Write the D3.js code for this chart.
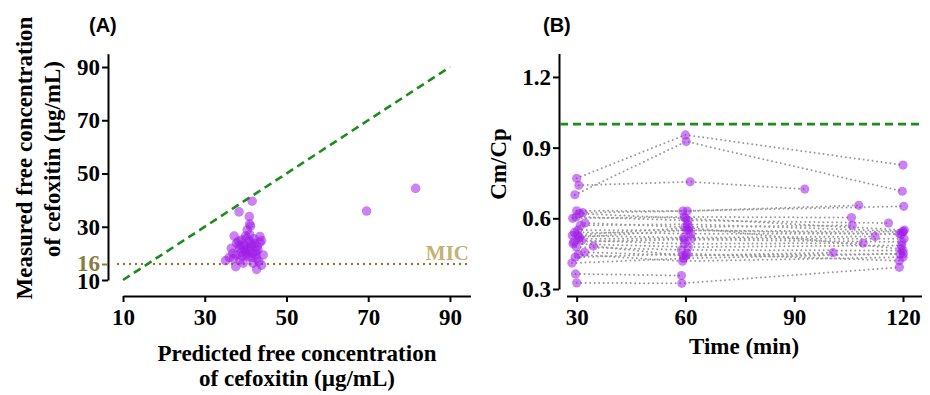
<!DOCTYPE html>
<html>
<head>
<meta charset="utf-8">
<script src="https://cdn.jsdelivr.net/npm/d3@7"></script>
<style>
  html, body { margin: 0; padding: 0; background: #fff; }
  svg { display: block; }
  .axis path, .axis line { stroke: #000; stroke-width: 2; }
  .axis text { font-family: "Liberation Serif", "Times New Roman", serif; font-weight: bold; font-size: 23px; fill: #000; }
  .title { font-family: "Liberation Serif", "Times New Roman", serif; font-weight: bold; font-size: 23px; fill: #000; }
  .panel { font-family: "Liberation Sans", Arial, sans-serif; font-weight: bold; font-size: 20px; fill: #000; }
</style>
</head>
<body>
<svg id="chart" width="930" height="395"></svg>
<script>
/* ── Data: panel A (predicted vs measured free cefoxitin, µg/mL) ─── */
const predA = [38.4, 41.6, 40.9, 41.0, 41.2, 37.2, 40.4, 43.5, 43.9, 35.1,
               37.6, 42.7, 43.9, 44.3, 38.6, 39.4, 36.9, 36.5, 37.8, 39.0,
               40.2, 41.4, 41.8, 40.6, 39.8, 42.2, 43.0, 38.6, 41.0, 39.8,
               41.8, 42.7, 37.8, 40.0, 42.5, 39.2, 41.0, 38.2, 43.2, 40.5,
               42.0, 36.0, 39.5, 40.8, 41.5, 42.8, 39.0, 40.2, 41.3, 38.5,
               43.5, 40.0, 42.5, 37.0, 69.6, 81.6];
const measA = [35.6, 39.6, 33.8, 31.0, 30.2, 26.5, 28.8, 26.3, 24.8, 17.3,
               15.0, 14.0, 15.6, 19.4, 17.5, 16.3, 20.0, 21.9, 23.8, 25.0,
               25.6, 22.5, 20.0, 18.8, 21.3, 23.8, 21.3, 21.9, 24.4, 23.1,
               16.3, 18.1, 19.4, 20.5, 20.8, 19.0, 27.0, 24.5, 17.0, 22.0,
               25.5, 18.5, 22.5, 21.0, 23.5, 22.5, 20.5, 19.5, 18.5, 23.0,
               24.0, 26.5, 19.5, 18.0, 35.9, 44.4];
const xTicksA = [10, 30, 50, 70, 90];
const yTicksA = [10, 16, 30, 50, 70, 90];
const MIC = 16;

/* ── Data: panel B (Cm/Cp per subject over time) ─────────────────── */
// each subject: sampling times (min) and matching Cm/Cp ratios
const subjTimes = [
  [30, 60, 120],       [29.5, 60.2, 119.8], [30.6, 61.3, 92.9],  [30, 59.3, 120.2],   [31.7, 60.5, 107.8],
  [28.9, 59.6, 105.8], [29.8, 60.7, 116],   [32.3, 59.9, 106],   [30.3, 60.9, 120],   [29.4, 61.5, 119],
  [28.8, 59.5, 112.3], [30.4, 61.6, 120.3], [31.4, 59.8, 109],   [29.0, 60.8, 119.6], [29.9, 58.9, 120],
  [34.6, 59.4, 100.7], [32.2, 60.2, 119.2], [30.5, 59.2, 120],   [29.6, 60.5, 119],   [29.7, 58.9],
  [30, 59.0, 119],     [28.7, 59.5, 120.1], [30.8, 60.3, 119.5], [31.0, 60.6, 120],   [29.2, 59.7, 119.7],
  [30.8, 60.0, 120.4], [30.2, 61.0, 119.4]
];
const subjRatios = [
  [0.77, 0.954, 0.826], [0.70, 0.926, 0.715], [0.74, 0.755, 0.724], [0.632, 0.631, 0.651], [0.624, 0.631, 0.655],
  [0.60, 0.606, 0.603], [0.606, 0.591, 0.58], [0.58, 0.563, 0.57],  [0.55, 0.549, 0.542],  [0.54, 0.535, 0.535],
  [0.527, 0.518, 0.523], [0.513, 0.513, 0.513], [0.506, 0.492, 0.495], [0.492, 0.478, 0.485], [0.478, 0.466, 0.463],
  [0.482, 0.442, 0.454], [0.456, 0.442, 0.449], [0.446, 0.418, 0.435], [0.435, 0.45, 0.42],   [0.364, 0.357],
  [0.326, 0.324, 0.392], [0.41, 0.43, 0.45],   [0.52, 0.55, 0.532],   [0.57, 0.575, 0.545],  [0.50, 0.51, 0.50],
  [0.62, 0.60, 0.55],    [0.53, 0.56, 0.47]
];
const xTicksB = [30, 60, 90, 120];
const yTicksB = [0.3, 0.6, 0.9, 1.2];

/* ── Styles ──────────────────────────────────────────────────────── */
const PURPLE = '#a11de8';
const GREEN  = '#1c8c1c';
const OLIVE  = '#8b7b3f';
const KHAKI  = '#c2b274';

const svg = d3.select('#chart');

/* ── Panel A ─────────────────────────────────────────────────────── */
const xA = d3.scaleLinear().domain([10, 95]).range([123, 470.4]);
const yA = d3.scaleLinear().domain([10, 95]).range([280, 53.7]);

svg.append('g').attr('class', 'axis')
  .attr('transform', 'translate(0,296)')
  .call(d3.axisBottom(xA).tickValues(xTicksA).tickSize(6).tickSizeOuter(0).tickPadding(7));

const yAxA = svg.append('g').attr('class', 'axis')
  .attr('transform', 'translate(108,0)')
  .call(d3.axisLeft(yA).tickValues(yTicksA).tickSize(6).tickSizeOuter(0).tickPadding(2));
const micTick = yAxA.selectAll('.tick').filter(d => d === MIC);
micTick.select('text').style('fill', OLIVE).attr('dy', '0.28em');
micTick.select('line').style('stroke', OLIVE);
yAxA.selectAll('.tick').filter(d => d === 10).select('text').attr('dy', '0.36em');

// MIC dotted line
svg.append('line')
  .attr('x1', 118).attr('x2', 470)
  .attr('y1', yA(MIC)).attr('y2', yA(MIC))
  .attr('stroke', OLIVE).attr('stroke-width', 2.4)
  .attr('stroke-linecap', 'round').attr('stroke-dasharray', '0,6');
svg.append('text').attr('class', 'title')
  .attr('x', 469).attr('y', yA(MIC) - 4)
  .attr('text-anchor', 'end').style('font-size', '21px').style('fill', KHAKI)
  .text('MIC');

// identity line
svg.append('line')
  .attr('x1', xA(10)).attr('y1', yA(10))
  .attr('x2', xA(90)).attr('y2', yA(90))
  .attr('stroke', GREEN).attr('stroke-width', 2.6).attr('stroke-dasharray', '8,5');

svg.append('g').selectAll('circle')
  .data(d3.range(predA.length))
  .join('circle')
  .attr('cx', i => xA(predA[i]))
  .attr('cy', i => yA(measA[i]))
  .attr('r', 4.8)
  .attr('fill', PURPLE).attr('fill-opacity', 0.55);

svg.append('text').attr('class', 'panel').attr('x', 89).attr('y', 32).text('(A)');

svg.append('text').attr('class', 'title')
  .attr('text-anchor', 'middle').attr('x', 297).attr('y', 361)
  .text('Predicted free concentration');
svg.append('text').attr('class', 'title')
  .attr('text-anchor', 'middle').attr('x', 297).attr('y', 386)
  .text('of cefoxitin (µg/mL)');

svg.append('text').attr('class', 'title')
  .attr('text-anchor', 'middle')
  .attr('transform', 'translate(32,158) rotate(-90)')
  .text('Measured free concentration');
svg.append('text').attr('class', 'title')
  .attr('text-anchor', 'middle')
  .attr('transform', 'translate(60,159) rotate(-90)')
  .text('of cefoxitin (µg/mL)');

/* ── Panel B ─────────────────────────────────────────────────────── */
const xB = d3.scaleLinear().domain([27.2, 125.1]).range([566.5, 921.5]);
const yB = d3.scaleLinear().domain([0.3, 1.3]).range([289, 53.4]);

svg.append('g').attr('class', 'axis')
  .attr('transform', 'translate(0,296)')
  .call(d3.axisBottom(xB).tickValues(xTicksB).tickSize(6).tickSizeOuter(0).tickPadding(7));

svg.append('g').attr('class', 'axis')
  .attr('transform', 'translate(559,0)')
  .call(d3.axisLeft(yB).tickValues(yTicksB).tickFormat(d3.format('.1f'))
    .tickSize(6).tickSizeOuter(0).tickPadding(2));

// reference ratio = 1
svg.append('line')
  .attr('x1', 560).attr('x2', 922)
  .attr('y1', yB(1)).attr('y2', yB(1))
  .attr('stroke', GREEN).attr('stroke-width', 2.6).attr('stroke-dasharray', '8,5');

const subjects = subjTimes.map((t, i) => t.map((v, j) => [v, subjRatios[i][j]]));

svg.append('g').selectAll('path')
  .data(subjects)
  .join('path')
  .attr('d', d3.line().x(d => xB(d[0])).y(d => yB(d[1])))
  .attr('fill', 'none').attr('stroke', '#9a9a9a').attr('stroke-width', 2)
  .attr('stroke-linecap', 'round').attr('stroke-dasharray', '0,4.5');

svg.append('g').selectAll('circle')
  .data(subjects.flat())
  .join('circle')
  .attr('cx', d => xB(d[0]))
  .attr('cy', d => yB(d[1]))
  .attr('r', 4.6)
  .attr('fill', PURPLE).attr('fill-opacity', 0.55);

svg.append('text').attr('class', 'panel').attr('x', 543).attr('y', 32).text('(B)');

svg.append('text').attr('class', 'title')
  .attr('text-anchor', 'middle').attr('x', 744).attr('y', 354)
  .text('Time (min)');
svg.append('text').attr('class', 'title')
  .attr('text-anchor', 'middle')
  .attr('transform', 'translate(506,164) rotate(-90)')
  .text('Cm/Cp');
</script>
</body>
</html>
